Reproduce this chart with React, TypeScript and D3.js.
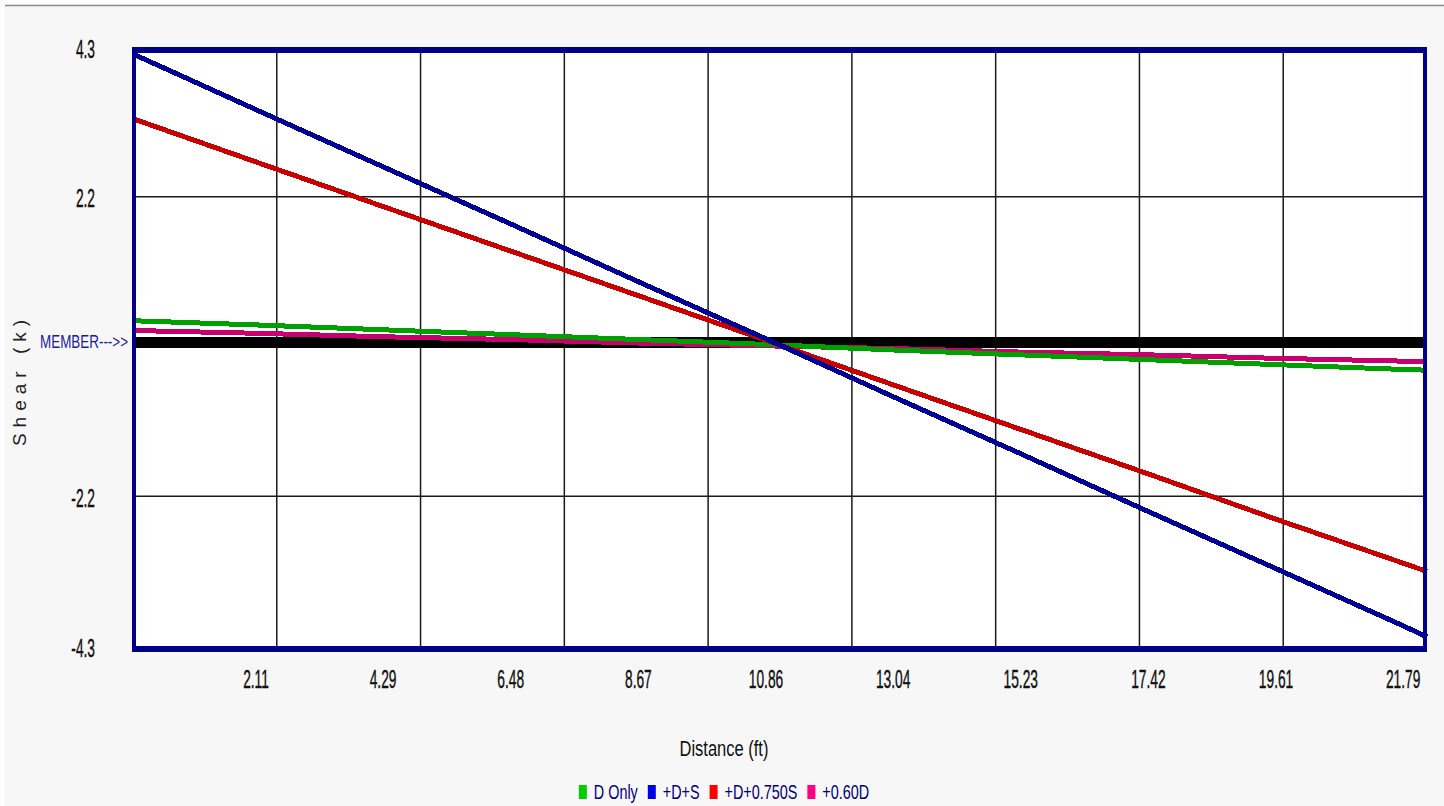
import { useEffect, useRef } from "react";
import * as d3 from "d3";

const W = 1444;
const H = 806;

// distance stations (ft) and shear values (k)
const stations = [0, 2.11, 4.29, 6.48, 8.67, 10.86, 13.04, 15.23, 17.42, 19.61, 21.79, 22.2];
const dOnly = [0.37, 0.31, 0.24, 0.17, 0.1, 0.03, -0.05, -0.12, -0.19, -0.26, -0.33, -0.34];
const dPlusS = [4.2, 3.4, 2.58, 1.76, 0.93, 0.11, -0.72, -1.54, -2.37, -3.19, -4.01, -4.17];
const dPlus075S = [3.27, 2.65, 2.01, 1.37, 0.73, 0.09, -0.55, -1.19, -1.83, -2.48, -3.11, -3.23];
const d060 = [0.23, 0.19, 0.14, 0.1, 0.05, 0.01, -0.03, -0.08, -0.12, -0.17, -0.21, -0.22];

const seriesNames = ["D Only", "+D+S", "+D+0.750S", "+0.60D"];
const lineColors = ["#00a000", "#000096", "#c80000", "#c8006e"];
const swatchColors = ["#00cc00", "#0000e6", "#ff0000", "#ff0080"];

const xTickValues = [2.11, 4.29, 6.48, 8.67, 10.86, 13.04, 15.23, 17.42, 19.61, 21.79];
const yTickValues = [4.3, 2.15, -2.15, -4.3];
const yTickLabels = ["4.3", "2.2", "-2.2", "-4.3"];
const xMax = 22.2;
const yMax = 4.3;
const xGridDivisions = 9;
const memberLevel = 0.057;

const FONT = "'Liberation Sans', Arial, sans-serif";

export default function App() {
  const ref = useRef<SVGSVGElement | null>(null);

  useEffect(() => {
    document.body.style.margin = "0";
    if (!ref.current) return;
    const svg = d3.select(ref.current);
    svg.selectAll("*").remove();

    const m = { l: 133, r: 1427, t: 47, b: 646 };
    const x = d3.scaleLinear().domain([0, xMax]).range([m.l, m.r]);
    const y = d3.scaleLinear().domain([-yMax, yMax]).range([m.b, m.t]);

    // page
    svg.append("rect").attr("width", W).attr("height", H).attr("fill", "#f7f7f7");
    svg.append("rect").attr("width", W).attr("height", 5).attr("fill", "#fdfdfd");
    svg.append("rect").attr("width", 5).attr("height", H).attr("fill", "#fdfdfd");
    svg.append("line")
      .attr("x1", 5).attr("x2", W).attr("y1", 5.5).attr("y2", 5.5)
      .attr("stroke", "#8a8a8a").attr("stroke-width", 1.5);

    // plot area
    svg.append("rect")
      .attr("x", m.l).attr("y", m.t)
      .attr("width", m.r - m.l).attr("height", m.b - m.t)
      .attr("fill", "#fff");

    const grid = svg.append("g").attr("stroke", "#1a1a1a").attr("stroke-width", 1.5);
    d3.range(1, xGridDivisions).forEach((i) => {
      const gx = x((i * xMax) / xGridDivisions);
      grid.append("line").attr("x1", gx).attr("x2", gx).attr("y1", m.t).attr("y2", m.b);
    });
    yTickValues.slice(1, -1).forEach((v) => {
      grid.append("line").attr("x1", m.l).attr("x2", m.r).attr("y1", y(v)).attr("y2", y(v));
    });

    // member bar
    svg.append("line")
      .attr("x1", m.l).attr("x2", m.r)
      .attr("y1", y(memberLevel)).attr("y2", y(memberLevel))
      .attr("stroke", "#000").attr("stroke-width", 11);

    const line = d3
      .line<number>()
      .x((_, i) => x(stations[i]))
      .y((d) => y(d));

    const series = [dOnly, dPlusS, dPlus075S, d060];
    const drawOrder = [3, 0, 2, 1];
    drawOrder.forEach((k) => {
      svg.append("path")
        .datum(series[k])
        .attr("fill", "none")
        .attr("stroke", lineColors[k])
        .attr("stroke-width", 5)
        .attr("shape-rendering", "crispEdges")
        .attr("d", line);
    });

    // border
    const navy = "#000088";
    svg.append("rect")
      .attr("x", m.l + 1).attr("y", m.t + 3)
      .attr("width", m.r - m.l - 3).attr("height", m.b - m.t)
      .attr("fill", "none").attr("stroke", navy).attr("stroke-width", 4);
    svg.append("line")
      .attr("x1", m.l - 1).attr("x2", m.r).attr("y1", m.t + 3).attr("y2", m.t + 3)
      .attr("stroke", navy).attr("stroke-width", 6);
    svg.append("line")
      .attr("x1", m.l - 1).attr("x2", m.r).attr("y1", m.b + 3).attr("y2", m.b + 3)
      .attr("stroke", navy).attr("stroke-width", 6);

    const text = (
      tx: number,
      ty: number,
      s: string,
      size: number,
      sx: number,
      anchor: string,
      fill: string
    ) =>
      svg.append("text")
        .attr("transform", `translate(${tx},${ty}) scale(${sx},1)`)
        .attr("text-anchor", anchor)
        .attr("dominant-baseline", "central")
        .attr("font-family", FONT)
        .attr("font-size", size)
        .attr("fill", fill)
        .text(s);

    // y tick labels
    yTickValues.forEach((v, i) =>
      text(95, y(v) + 2, yTickLabels[i], 25, 0.55, "end", "#111").attr("stroke", "#111").attr("stroke-width", 0.4)
    );
    // x tick labels
    xTickValues.forEach((v) =>
      text(x(v), 679, d3.format(".2f")(v), 25, 0.55, "middle", "#111").attr("stroke", "#111").attr("stroke-width", 0.4)
    );

    text(128, y(memberLevel) - 1, "MEMBER--->>", 18, 1, "end", "#1c1ca0")
      .attr("textLength", 88).attr("lengthAdjust", "spacingAndGlyphs");

    svg.append("text")
      .attr("transform", `translate(19,380) rotate(-90)`)
      .attr("text-anchor", "middle")
      .attr("dominant-baseline", "central")
      .attr("font-family", FONT)
      .attr("font-size", 19)
      .attr("fill", "#222")
      .attr("letter-spacing", 6)
      .text("Shear (k)");

    text(724, 748, "Distance (ft)", 22, 0.75, "middle", "#111");

    // legend
    const lg = svg.append("g");
    const sx = 0.72;
    let cx = 0;
    seriesNames.forEach((name, i) => {
      lg.append("rect").attr("x", cx).attr("y", -7).attr("width", 8).attr("height", 14)
        .attr("fill", swatchColors[i]);
      cx += 15;
      const t = lg.append("text")
        .attr("transform", `translate(${cx},0) scale(${sx},1)`)
        .attr("dominant-baseline", "central")
        .attr("font-family", FONT)
        .attr("font-size", 20)
        .attr("fill", "#00007a")
        .text(name);
      const w = (t.node() as SVGTextElement).getComputedTextLength() * sx;
      cx += w + 10;
    });
    const total = cx - 10;
    lg.attr("transform", `translate(${724 - total / 2},792)`);
  }, []);

  return <svg ref={ref} width={W} height={H} style={{ display: "block" }} />;
}
